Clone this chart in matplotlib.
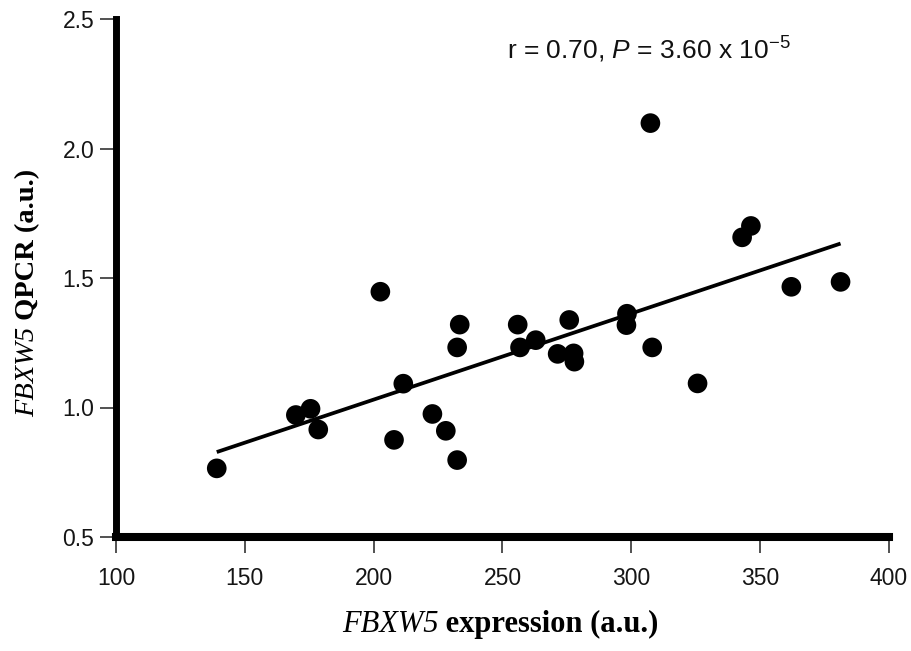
import numpy as np
import matplotlib
matplotlib.use("Agg")
import matplotlib.pyplot as plt

# FBXW5 array expression vs QPCR
expr = [139.1, 169.8, 175.5, 178.5, 202.6, 207.9, 211.5, 222.8, 228.0, 232.4,
        232.4, 233.4, 255.9, 256.8, 262.9, 271.4, 275.9, 277.6, 277.9, 298.3,
        298.1, 307.4, 308.1, 325.7, 343.0, 346.4, 362.1, 381.2]
qpcr = [0.765, 0.971, 0.995, 0.915, 1.447, 0.875, 1.092, 0.975, 0.910, 0.797,
        1.232, 1.320, 1.320, 1.232, 1.260, 1.207, 1.338, 1.209, 1.177, 1.362,
        1.318, 2.098, 1.232, 1.093, 1.657, 1.701, 1.466, 1.485]

x_ticks = [100, 150, 200, 250, 300, 350, 400]
y_ticks = [0.5, 1.0, 1.5, 2.0, 2.5]
gene = "FBXW5"
xlab_rest = " expression (a.u.)"
ylab_rest = " QPCR (a.u.)"
stat_text = r"r = 0.70, $P$ = 3.60 x $10^{-5}$"

plt.rcParams.update({
    "font.family": ["Liberation Sans", "DejaVu Sans"],
    "mathtext.fontset": "custom",
    "mathtext.rm": "Liberation Sans",
    "mathtext.it": "Liberation Sans:italic",
})

x = np.array(expr)
y = np.array(qpcr)
slope, icpt = np.polyfit(x, y, 1)
xf = np.array([x.min(), x.max()])

fig = plt.figure(figsize=(9.12, 6.51), dpi=100)
ax = fig.add_axes([116 / 912, 114 / 651, 773 / 912, 518 / 651])

ax.scatter(x, y, s=200, color="black", edgecolors="none", zorder=3)
ax.plot(xf, slope * xf + icpt, color="black", linewidth=2.7, solid_capstyle="butt", zorder=2)

ax.set_xlim(100, 400)
ax.set_ylim(0.5, 2.5)
ax.set_xticks(x_ticks)
ax.set_yticks(y_ticks)
ax.set_yticklabels([f"{v:.1f}" for v in y_ticks])

for side in ("top", "right"):
    ax.spines[side].set_visible(False)
ax.spines["left"].set_linewidth(5.0)
ax.spines["bottom"].set_linewidth(5.8)

ax.tick_params(axis="both", direction="out", length=11.5, width=1.2,
               color="#333333", labelsize=16.5, labelcolor="#151515")
ax.tick_params(axis="x", pad=10)
ax.tick_params(axis="y", pad=4)

# axis labels: italic gene name + bold remainder (Times-like)
serif = "Liberation Serif"
ax.text(0.417, -0.1834, gene, transform=ax.transAxes, fontsize=22, family=serif,
        style="italic", ha="right", va="baseline")
ax.text(0.417, -0.1834, xlab_rest, transform=ax.transAxes, fontsize=22, family=serif,
        weight="bold", ha="left", va="baseline")
ax.text(-0.106, 0.405, gene, transform=ax.transAxes, fontsize=20.5, family=serif,
        style="italic", ha="right", va="baseline", rotation=90, rotation_mode="anchor")
ax.text(-0.106, 0.405, ylab_rest, transform=ax.transAxes, fontsize=20.5, family=serif,
        weight="bold", ha="left", va="baseline", rotation=90, rotation_mode="anchor")

ax.text(0.506, 0.923, stat_text, transform=ax.transAxes, fontsize=19,
        ha="left", va="baseline", color="#111111")

fig.savefig("out.png", dpi=100)
